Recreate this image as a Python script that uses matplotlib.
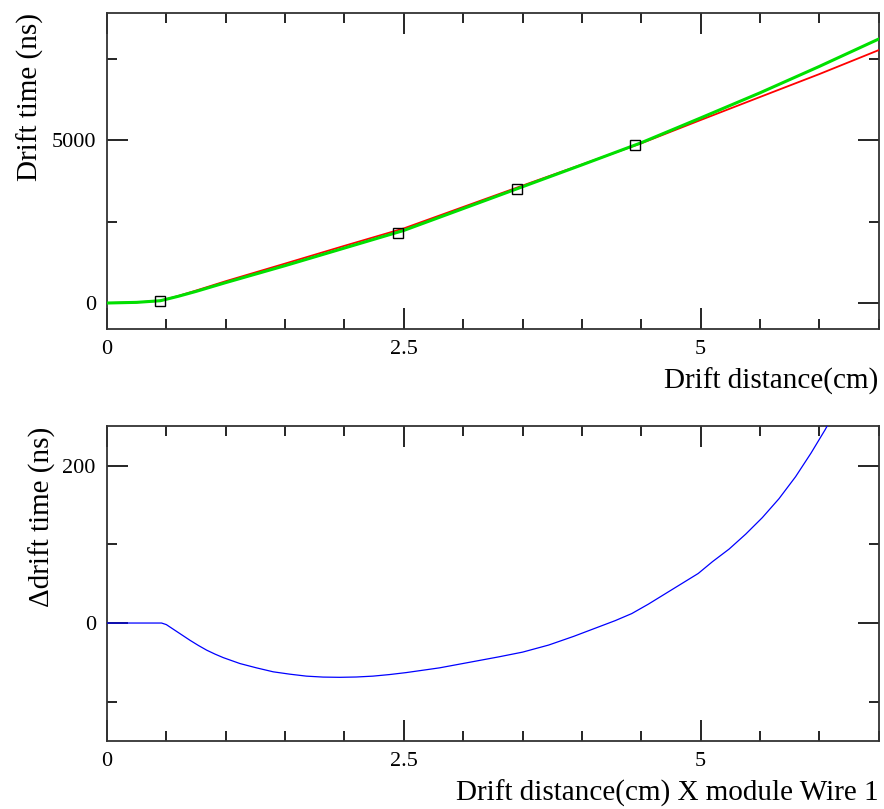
import numpy as np
import matplotlib
matplotlib.use("Agg")
import matplotlib.pyplot as plt
from matplotlib.ticker import MultipleLocator

plt.rcParams['font.family'] = ['Liberation Serif', 'DejaVu Serif']

# drift time curves (top panel)
dist = [0, 0.25, 0.45, 0.6, 0.75, 1.0, 1.5, 2.0, 2.5, 3.0, 3.5, 4.0, 4.5, 5.0, 5.5, 6.0, 6.5]
time_red = [5, 25, 75, 222, 387, 674, 1214, 1759, 2293, 2950, 3606, 4253, 4902, 5616, 6322, 7025, 7760]
time_green = [5, 25, 75, 210, 360, 630, 1150, 1690, 2230, 2900, 3570, 4240, 4920, 5680, 6450, 7260, 8100]

# measured points
pts_x = [0.45, 2.45, 3.45, 4.45]
pts_y = [70, 2160, 3500, 4850]

# difference curve (bottom panel)
dx = [0, 0.46, 0.5, 0.56, 0.63, 0.7, 0.77, 0.84, 0.91, 0.98, 1.12, 1.26, 1.4, 1.54, 1.68, 1.82,
      1.96, 2.1, 2.24, 2.38, 2.52, 2.8, 3.05, 3.3, 3.5, 3.72, 3.93, 4.14, 4.28, 4.42,
      4.56, 4.7, 4.84, 4.98, 5.1, 5.24, 5.38, 5.52, 5.66, 5.8, 5.93, 6.05, 6.13, 6.3]
dt = [0, 0, -2, -8, -15, -22, -28.5, -34.5, -39.5, -44, -51.5, -57, -62, -65, -67.5, -68.7,
      -69, -68.6, -67.5, -65.5, -63, -57, -50, -43, -37, -28, -17, -5, 3, 12,
      24, 37, 50, 63, 78, 94, 113, 134, 158, 186, 216, 246, 268, 320]

fig = plt.figure(figsize=(8.84, 8.09), dpi=100)

ax1 = fig.add_axes([0.121, 0.593, 0.873, 0.391])
ax1.plot(dist, time_red, color='red', lw=1.3, zorder=3)
ax1.plot(dist, time_green, color='#00e000', lw=2.2, zorder=3)
ax1.plot(pts_x, pts_y, ls='none', marker='s', ms=6.5, mfc='none', mec='black', mew=1, zorder=4)
ax1.set_xlim(0, 6.5)
ax1.set_ylim(-800, 8900)
ax1.xaxis.set_minor_locator(MultipleLocator(0.5))
ax1.yaxis.set_major_locator(MultipleLocator(5000))
ax1.yaxis.set_minor_locator(MultipleLocator(2500))
ax1.set_xticks([0, 2.5, 5])
ax1.set_xticklabels(['0', '2.5', '5'])
ax1.set_xlabel('Drift distance(cm)', fontsize=21, loc='right', labelpad=6)
ax1.set_ylabel('Drift time (ns)', fontsize=21, loc='top', labelpad=5)

ax2 = fig.add_axes([0.121, 0.084, 0.873, 0.389])
ax2.plot(dx, dt, color='blue', lw=0.9, zorder=3)
ax2.set_xlim(0, 6.5)
ax2.set_ylim(-150, 250)
ax2.xaxis.set_minor_locator(MultipleLocator(0.5))
ax2.yaxis.set_minor_locator(MultipleLocator(100))
ax2.set_xticks([0, 2.5, 5])
ax2.set_xticklabels(['0', '2.5', '5'])
ax2.set_yticks([0, 200])
ax2.set_xlabel('Drift distance(cm) X module Wire 1', fontsize=21, loc='right', labelpad=6)
ax2.set_ylabel('\u0394drift time (ns)', fontsize=21, loc='top', labelpad=5)

for ax in (ax1, ax2):
    ax.tick_params(which='both', direction='in', top=True, right=True, labelsize=16, pad=8)
    ax.tick_params(which='major', length=15, width=1.2)
    ax.tick_params(which='minor', length=7, width=1.2)
    for s in ax.spines.values():
        s.set_linewidth(1.3)
        s.set_color('#333333')

plt.savefig('out.png', dpi=100)
